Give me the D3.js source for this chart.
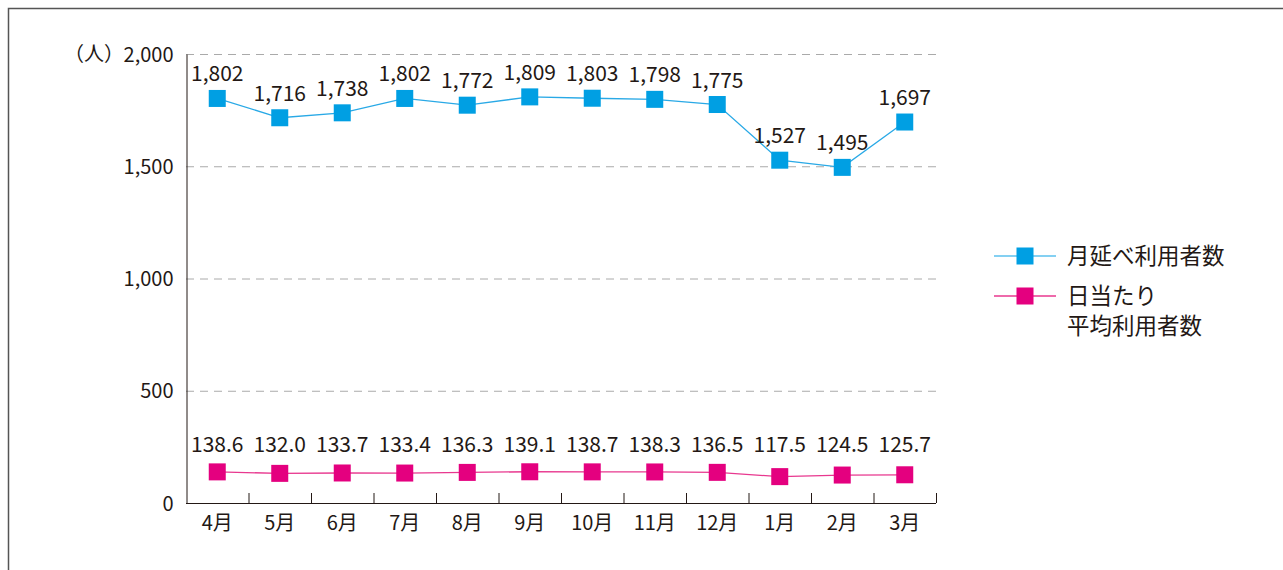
<!DOCTYPE html>
<html><head><meta charset="utf-8">
<script src="https://cdn.jsdelivr.net/npm/d3@7"></script>
<style>body{margin:0;background:#fff}svg{display:block}text{font-family:"Noto Sans CJK JP","Noto Sans",sans-serif;fill:#231815}</style>
</head><body>
<svg id="c" width="1283" height="570"></svg>
<script>
const months = ["4月","5月","6月","7月","8月","9月","10月","11月","12月","1月","2月","3月"];
const monthlyTotal = [1802,1716,1738,1802,1772,1809,1803,1798,1775,1527,1495,1697];
const dailyAverage = [138.6,132.0,133.7,133.4,136.3,139.1,138.7,138.3,136.5,117.5,124.5,125.7];
const yTicks = [0,500,1000,1500,2000];
const legendLabels = [["月延べ利用者数"],["日当たり","平均利用者数"]];

const svg = d3.select("#c");
// frame
svg.append("path").attr("d","M8.5,570V8.5H1283").attr("fill","none").attr("stroke","#555").attr("stroke-width",1.5);

const x = d3.scaleBand().domain(months).range([186,936]).padding(0);
const y = d3.scaleLinear().domain([0,2000]).range([503,54]);

// grid
svg.append("g").selectAll("line").data(yTicks.filter(d=>d>0)).join("line")
  .attr("x1",186).attr("x2",936).attr("y1",d=>y(d)+0.5).attr("y2",d=>y(d)+0.5)
  .attr("stroke","#aaa").attr("stroke-dasharray","8,6");

// y axis
const ya = svg.append("g").attr("transform","translate(186.5,0)")
  .call(d3.axisLeft(y).tickValues(yTicks).tickSize(0).tickPadding(13).tickFormat(d3.format(",")));
ya.select(".domain").attr("stroke","#231815");
ya.selectAll("text").style("font-size","20px").attr("dy","0.35em");
svg.append("text").attr("x",64).attr("y",y(2000)).attr("dy","0.35em").style("font-size","20px").text("（人）");

// x axis
const xa = svg.append("g").attr("transform","translate(0,503.5)")
  .call(d3.axisBottom(x).tickSize(0).tickPadding(11));
xa.select(".domain").attr("stroke","#231815").attr("d","M186,0H936");
xa.selectAll("text").style("font-size","20px").attr("dy","0.75em");
svg.append("g").selectAll("line").data(months.slice(1).concat(["end"])).join("line")
  .attr("x1",(d,i)=>186+ (i+1)*x.bandwidth()+0.5).attr("x2",(d,i)=>186+(i+1)*x.bandwidth()+0.5)
  .attr("y1",503).attr("y2",493).attr("stroke","#231815");

const cx = d => x(d)+x.bandwidth()/2;
function series(vals, lineColor, markColor, fmt, labelY){
  const g = svg.append("g");
  g.append("path").datum(vals).attr("fill","none").attr("stroke",lineColor).attr("stroke-width",1.3)
    .attr("d", d3.line().x((d,i)=>cx(months[i])).y(d=>y(d)));
  g.selectAll("rect").data(vals).join("rect")
    .attr("x",(d,i)=>cx(months[i])-8.5).attr("y",d=>y(d)-8.5).attr("width",17).attr("height",17).attr("fill",markColor);
  g.selectAll("text").data(vals).join("text")
    .attr("x",(d,i)=>cx(months[i])).attr("y",labelY).attr("text-anchor","middle").style("font-size","21px").text(fmt);
}
series(monthlyTotal,"#29a9e6","#009fe3",d3.format(","),d=>y(d)-17);
series(dailyAverage,"#e8388f","#e4007f",d3.format(".1f"),452);

// legend
const leg = [{c:"#009fe3",l:"#5bc0ee",y:256},{c:"#e4007f",l:"#e8388f",y:296}];
leg.forEach((o,i)=>{
  svg.append("line").attr("x1",994).attr("x2",1056).attr("y1",o.y).attr("y2",o.y).attr("stroke",o.l).attr("stroke-width",1.3);
  svg.append("rect").attr("x",1025-8.5).attr("y",o.y-8.5).attr("width",17).attr("height",17).attr("fill",o.c);
  legendLabels[i].forEach((t,j)=>svg.append("text").attr("x",1067).attr("y",o.y+j*30).attr("dy","0.35em").style("font-size","22.5px").text(t));
});
</script>
</body></html>
